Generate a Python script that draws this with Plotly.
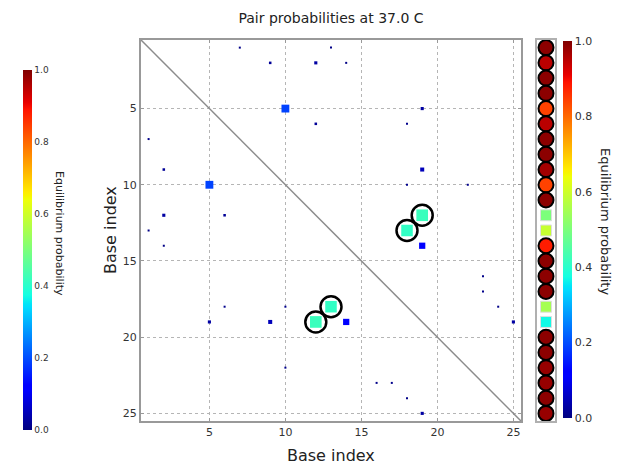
import numpy as np
import plotly.graph_objects as go

# ---------------- data ----------------
n_bases = 25
pair_i = [1, 1, 2, 2, 2, 5, 5, 6, 6, 9, 10, 10, 12, 13, 14, 16, 17, 18, 19]
pair_j = [7, 13, 9, 12, 14, 10, 19, 12, 18, 19, 18, 22, 19, 18, 19, 23, 23, 24, 25]
pair_p = [0.008, 0.006, 0.02, 0.03, 0.005, 0.19, 0.03, 0.02, 0.01, 0.05,
          0.01, 0.01, 0.42, 0.41, 0.12, 0.008, 0.01, 0.006, 0.03]
mfe_i = [12, 13]
mfe_j = [19, 18]
unpaired_p = [0.99, 0.95, 0.99, 0.99, 0.84, 0.95, 0.99, 0.99, 0.97, 0.84,
              0.99, 0.50, 0.59, 0.88, 0.99, 0.99, 0.99, 0.55, 0.37, 0.99,
              0.99, 0.98, 0.98, 0.99, 0.98]
mfe_paired_bases = [12, 13, 18, 19]
axis_ticks = [5, 10, 15, 20, 25]
cbar_ticks = [0.0, 0.2, 0.4, 0.6, 0.8, 1.0]
cbar_ticktext = ["0.0", "0.2", "0.4", "0.6", "0.8", "1.0"]
title_text = "Pair probabilities at 37.0 C"
axis_label = "Base index"
cbar_label = "Equilibrium probability"

# ---------------- matplotlib "jet" colorscale ----------------
_red = [(0, 0), (0.35, 0), (0.66, 1), (0.89, 1), (1, 0.5)]
_green = [(0, 0), (0.125, 0), (0.375, 1), (0.64, 1), (0.91, 0), (1, 0)]
_blue = [(0, 0.5), (0.11, 1), (0.34, 1), (0.65, 0), (1, 0)]


def _ch(seg, t):
    xs = [s[0] for s in seg]
    ys = [s[1] for s in seg]
    return float(np.interp(t, xs, ys))


stops = sorted(set([s[0] for s in _red + _green + _blue]))
jet = []
for t in stops:
    r, g, b = (_ch(_red, t), _ch(_green, t), _ch(_blue, t))
    jet.append([t, f"rgb({round(r*255)},{round(g*255)},{round(b*255)})"])

W, H = 622, 465
OFF = 8  # page body margin offset


def px_x(p):
    return (p - OFF) / W


def px_y(p):
    return 1 - (p - OFF) / H


FONT = "DejaVu Sans"

fig = go.Figure()

# symmetric pair probability points
xs, ys, ps = [], [], []
for i, j, p in zip(pair_i, pair_j, pair_p):
    xs += [j, i]
    ys += [i, j]
    ps += [p, p]
order = np.argsort(ps)
xs = [xs[k] for k in order]
ys = [ys[k] for k in order]
ps = [ps[k] for k in order]
sizes = [max(2.0, 18 * np.sqrt(p)) for p in ps]

# diagonal
fig.add_trace(go.Scatter(x=[0.5, n_bases + 0.5], y=[0.5, n_bases + 0.5], mode="lines",
                         line=dict(color="#8c8c8c", width=1.5), hoverinfo="skip",
                         showlegend=False, xaxis="x", yaxis="y"))

fig.add_trace(go.Scatter(x=xs, y=ys, mode="markers",
                         marker=dict(symbol="square", size=sizes, color=ps, opacity=1,
                                     coloraxis="coloraxis", line=dict(width=0)),
                         showlegend=False, xaxis="x", yaxis="y"))

# MFE circles
cx = mfe_j + mfe_i
cy = mfe_i + mfe_j
fig.add_trace(go.Scatter(x=cx, y=cy, mode="markers",
                         marker=dict(symbol="circle-open", size=21, color="black",
                                     line=dict(width=2.5, color="black")),
                         showlegend=False, hoverinfo="skip", xaxis="x", yaxis="y"))

# dummy trace for left colorbar
fig.add_trace(go.Scatter(x=[1], y=[1], mode="markers",
                         marker=dict(size=1, opacity=0, color=[0.5], coloraxis="coloraxis2"),
                         showlegend=False, hoverinfo="skip", xaxis="x", yaxis="y"))

# right column: unpaired probabilities
bases = list(range(1, n_bases + 1))
circ_b = [b for b in bases if b not in mfe_paired_bases]
sq_b = [b for b in bases if b in mfe_paired_bases]
fig.add_trace(go.Scatter(x=[0.5] * len(circ_b), y=circ_b, mode="markers",
                         marker=dict(symbol="circle", size=15,
                                     color=[unpaired_p[b - 1] for b in circ_b],
                                     coloraxis="coloraxis",
                                     line=dict(color="black", width=2)),
                         showlegend=False, xaxis="x2", yaxis="y2"))
fig.add_trace(go.Scatter(x=[0.5] * len(sq_b), y=sq_b, mode="markers",
                         marker=dict(symbol="square", size=11,
                                     color=[unpaired_p[b - 1] for b in sq_b],
                                     coloraxis="coloraxis",
                                     line=dict(color="#dddddd", width=1)),
                         showlegend=False, xaxis="x2", yaxis="y2"))

ydom = [px_y(421), px_y(40)]

fig.update_layout(
    width=W, height=H,
    margin=dict(l=0, r=0, t=0, b=0, autoexpand=False),
    paper_bgcolor="white", plot_bgcolor="white",
    font=dict(family=FONT, color="#222222"),
    title=dict(text=title_text, x=px_x(331), xanchor="center", y=px_y(18), yanchor="middle",
               font=dict(size=14, family=FONT, color="#222222")),
    xaxis=dict(domain=[px_x(141), px_x(521)], range=[0.5, n_bases + 0.5],
               tickvals=axis_ticks, ticks="inside", ticklen=3, tickcolor="#999999",
               showline=True, mirror="ticks", linecolor="#999999", linewidth=2,
               showgrid=True, gridcolor="#b5b5b5", griddash="dot", gridwidth=1,
               zeroline=False, tickfont=dict(size=11, color="#333333")),
    yaxis=dict(domain=ydom, range=[n_bases + 0.5, 0.5],
               tickvals=axis_ticks, ticks="inside", ticklen=3, tickcolor="#999999",
               showline=True, mirror="ticks", linecolor="#999999", linewidth=2,
               showgrid=True, gridcolor="#b5b5b5", griddash="dot", gridwidth=1,
               zeroline=False, tickfont=dict(size=11, color="#333333")),
    xaxis2=dict(domain=[px_x(537), px_x(555)], range=[0, 1], showgrid=False,
                zeroline=False, showticklabels=False, ticks="",
                showline=True, mirror=True, linecolor="#b0b0b0", linewidth=2),
    yaxis2=dict(domain=ydom, range=[n_bases + 0.5, 0.5], anchor="x2", showgrid=False,
                zeroline=False, showticklabels=False, ticks="",
                showline=True, mirror=True, linecolor="#b0b0b0", linewidth=2),
    coloraxis=dict(colorscale=jet, cmin=0, cmax=1,
                   colorbar=dict(x=px_x(563), xanchor="left", xpad=0, ypad=0,
                                 thickness=9, lenmode="pixels", len=377,
                                 y=px_y(229.5), yanchor="middle", outlinewidth=0,
                                 tickvals=cbar_ticks, ticktext=cbar_ticktext,
                                 ticks="", tickfont=dict(size=11, color="#333333"))),
    coloraxis2=dict(colorscale=jet, cmin=0, cmax=1,
                    colorbar=dict(x=px_x(23), xanchor="left", xpad=0, ypad=0,
                                  thickness=9, lenmode="pixels", len=360,
                                  y=px_y(250), yanchor="middle", outlinewidth=0,
                                  tickvals=cbar_ticks, ticktext=cbar_ticktext,
                                  ticks="", tickfont=dict(size=9, color="#333333"))),
    annotations=[
        dict(text=axis_label, x=px_x(331), y=px_y(455), xref="paper", yref="paper",
             showarrow=False, xanchor="center", yanchor="middle",
             font=dict(size=16, color="#222222")),
        dict(text=axis_label, x=px_x(110), y=px_y(230), xref="paper", yref="paper",
             showarrow=False, xanchor="center", yanchor="middle", textangle=-90,
             font=dict(size=16, color="#222222")),
        dict(text=cbar_label, x=px_x(605), y=px_y(221), xref="paper", yref="paper",
             showarrow=False, xanchor="center", yanchor="middle", textangle=90,
             font=dict(size=13, color="#222222")),
        dict(text=cbar_label, x=px_x(60), y=px_y(233), xref="paper", yref="paper",
             showarrow=False, xanchor="center", yanchor="middle", textangle=90,
             font=dict(size=11, color="#222222")),
    ],
)

fig.write_html("out.html")
